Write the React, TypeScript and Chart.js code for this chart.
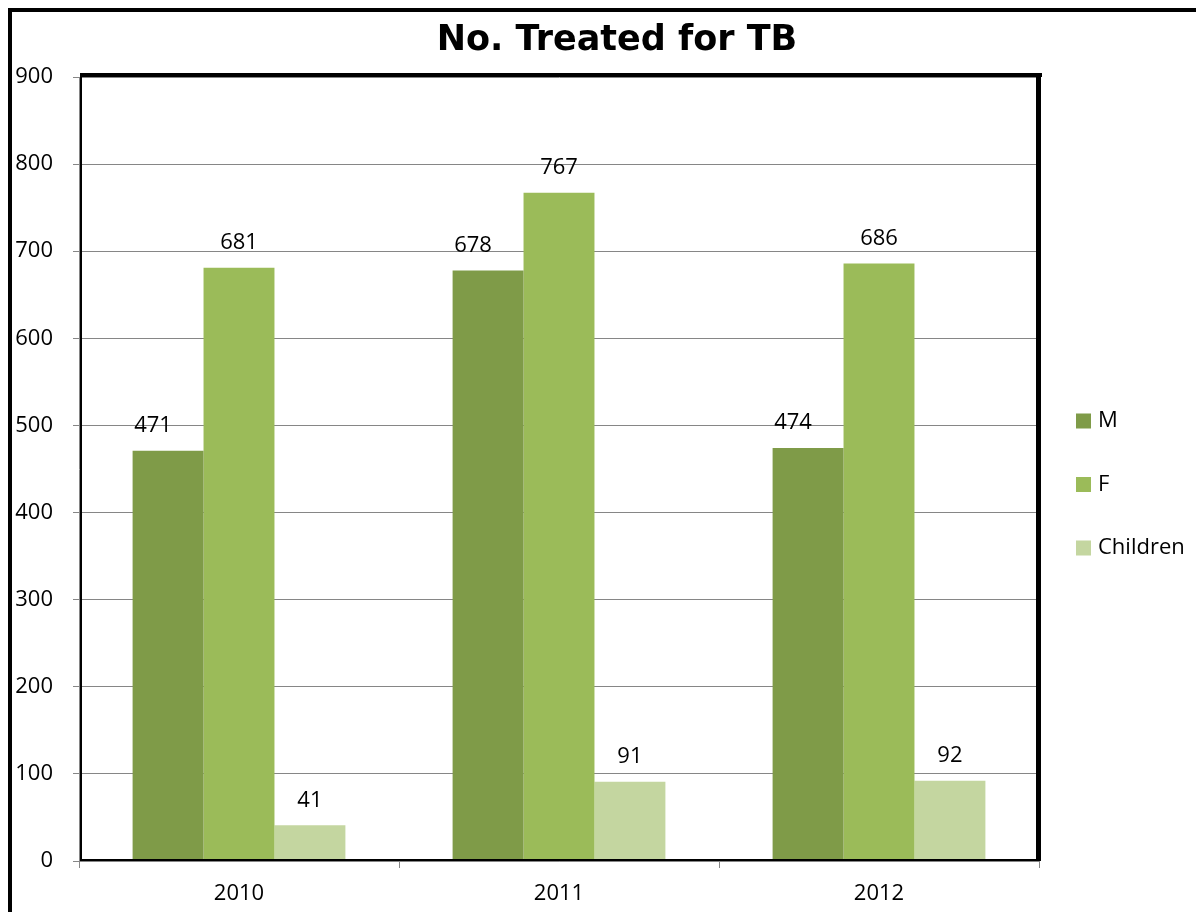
import React, { useEffect, useRef } from "react";
import { Chart, registerables } from "chart.js";

Chart.register(...registerables);

const categories = ["2010", "2011", "2012"];
const seriesNames = ["M", "F", "Children"];
const maleValues = [471, 678, 474];
const femaleValues = [681, 767, 686];
const childrenValues = [41, 91, 92];
const seriesColors = ["#7f9b48", "#9bbb59", "#c4d6a0"];
const titleText = "No. Treated for TB";
const FONT = "'Open Sans', Lato, sans-serif";
const TITLE_FONT = "'DejaVu Sans', 'Open Sans', sans-serif";

const framePlugin = {
  id: "frame",
  afterDraw(chart: any) {
    const { ctx, chartArea } = chart;
    const { left, right, top, bottom } = chartArea;
    ctx.save();
    ctx.fillStyle = "#000";
    ctx.fillRect(left + 1, top - 4, right - left + 2, 4);
    ctx.fillRect(right - 3, top - 4, 5, bottom - top + 4);
    ctx.fillRect(left + 1, top, 2, bottom - top);
    ctx.fillRect(left + 1, bottom - 2, right - left, 2);
    ctx.restore();
  },
};

const titlePlugin = {
  id: "customTitle",
  afterDraw(chart: any) {
    const { ctx } = chart;
    ctx.save();
    ctx.font = `bold 35px ${TITLE_FONT}`;
    ctx.fillStyle = "#000";
    ctx.textAlign = "center";
    ctx.textBaseline = "middle";
    ctx.fillText(titleText, 605, 29);
    ctx.restore();
  },
};

const valueLabelPlugin = {
  id: "valueLabels",
  afterDatasetsDraw(chart: any) {
    const { ctx } = chart;
    ctx.save();
    ctx.font = `22px ${FONT}`;
    ctx.fillStyle = "#000";
    ctx.textAlign = "center";
    ctx.textBaseline = "middle";
    chart.data.datasets.forEach((ds: any, di: number) => {
      const meta = chart.getDatasetMeta(di);
      meta.data.forEach((bar: any, i: number) => {
        const shift = di === 0 ? -15 : 0;
        ctx.fillText(String(ds.data[i]), bar.x + shift, bar.y - 25);
      });
    });
    ctx.restore();
  },
};

const legendPlugin = {
  id: "customLegend",
  afterDraw(chart: any) {
    const { ctx } = chart;
    ctx.save();
    ctx.font = `22px ${FONT}`;
    ctx.textBaseline = "middle";
    ctx.textAlign = "left";
    chart.data.datasets.forEach((ds: any, i: number) => {
      const y = 409 + i * 63.5;
      ctx.fillStyle = ds.backgroundColor;
      ctx.fillRect(1064, y - 7.5, 15, 15);
      ctx.fillStyle = "#000";
      ctx.fillText(ds.label, 1086, y);
    });
    ctx.restore();
  },
};

export default function App() {
  const ref = useRef<HTMLCanvasElement>(null);
  useEffect(() => {
    if (!ref.current) return;
    const seriesValues = [maleValues, femaleValues, childrenValues];
    const chart = new Chart(ref.current, {
      type: "bar",
      data: {
        labels: categories,
        datasets: seriesNames.map((name, i) => ({
          label: name,
          data: seriesValues[i],
          backgroundColor: seriesColors[i],
          borderWidth: 0,
          categoryPercentage: 0.665,
          barPercentage: 1,
        })),
      },
      options: {
        animation: false,
        responsive: false,
        maintainAspectRatio: false,
        layout: { padding: { top: 65, right: 165, left: 0, bottom: 0 } },
        plugins: {
          legend: { display: false },
          title: { display: false },
          tooltip: { enabled: false },
        },
        scales: {
          x: {
            offset: true,
            grid: {
              offset: true,
              drawOnChartArea: false,
              drawTicks: true,
              tickLength: 7,
              tickColor: "#868686",
            },
            border: { color: "#868686", width: 1 },
            ticks: { color: "#000", font: { family: FONT, size: 22 }, padding: 13 },
            afterFit(scale: any) {
              scale.height = 51;
            },
          },
          y: {
            min: 0,
            max: 900,
            ticks: { stepSize: 100, color: "#000", font: { family: FONT, size: 22 }, padding: 20 },
            grid: { color: "#868686", lineWidth: 1, tickLength: 6, tickColor: "#868686" },
            border: { color: "#868686", width: 1 },
            afterFit(scale: any) {
              scale.width = 67;
            },
          },
        },
      },
      plugins: [framePlugin, titlePlugin, valueLabelPlugin, legendPlugin],
    } as any);
    return () => chart.destroy();
  }, []);

  return (
    <div
      style={{
        width: 1192,
        height: 900,
        borderLeft: "4px solid #000",
        borderTop: "4px solid #000",
        background: "#fff",
      }}
    >
      <canvas ref={ref} width={1192} height={900} style={{ display: "block" }} />
    </div>
  );
}
